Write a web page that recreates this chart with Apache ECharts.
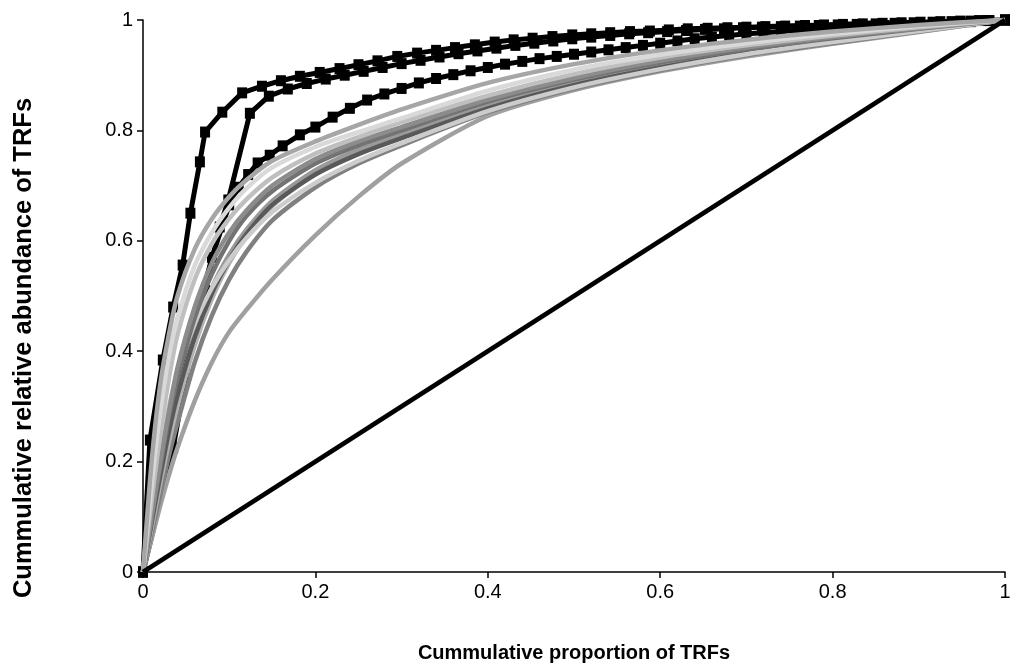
<!DOCTYPE html>
<html>
<head>
<meta charset="utf-8">
<script src="https://cdn.jsdelivr.net/npm/echarts@6/dist/echarts.min.js"></script>
<style>
  html, body { margin: 0; padding: 0; background: #fff; }
  #chart { width: 1014px; height: 666px; }
</style>
</head>
<body>
<div id="chart"></div>
<script>
// Cumulative (Lorenz-type) curves of TRF abundance: [proportion of TRFs, cumulative relative abundance]
const xTitle = 'Cummulative proportion of TRFs';
const yTitle = 'Cummulative relative abundance of TRFs';
const tickValues = [0, 0.2, 0.4, 0.6, 0.8, 1];

// Black profiles drawn with square markers
const profileA = [[0,0],[0.008,0.239],[0.023,0.384],[0.035,0.48],[0.046,0.556],[0.055,0.65],[0.066,0.743],[0.072,0.797],[0.092,0.833],[0.115,0.868],[0.138,0.88],[0.16,0.89],[0.182,0.898],[0.205,0.905],[0.228,0.912],[0.25,0.919],[0.272,0.926],[0.295,0.934],[0.318,0.94],[0.34,0.945],[0.362,0.95],[0.385,0.955],[0.408,0.96],[0.43,0.964],[0.452,0.967],[0.475,0.97],[0.498,0.973],[0.52,0.975],[0.542,0.977],[0.565,0.979],[0.588,0.98],[0.61,0.982],[0.632,0.984],[0.655,0.985],[0.678,0.986],[0.7,0.987],[0.722,0.988],[0.745,0.989],[0.768,0.99],[0.79,0.991],[0.812,0.992],[0.835,0.993],[0.858,0.994],[0.88,0.995],[0.902,0.996],[0.925,0.997],[0.948,0.998],[0.97,0.999],[1,1]];
const profileB = [[0,0],[0.035,0.225],[0.06,0.444],[0.072,0.51],[0.089,0.625],[0.099,0.674],[0.124,0.831],[0.146,0.862],[0.168,0.875],[0.19,0.885],[0.212,0.893],[0.234,0.9],[0.256,0.907],[0.278,0.914],[0.3,0.921],[0.322,0.927],[0.344,0.933],[0.366,0.939],[0.388,0.944],[0.41,0.949],[0.432,0.954],[0.454,0.958],[0.476,0.962],[0.498,0.966],[0.52,0.969],[0.542,0.972],[0.564,0.975],[0.586,0.977],[0.608,0.979],[0.63,0.981],[0.652,0.983],[0.674,0.984],[0.696,0.986],[0.718,0.987],[0.74,0.988],[0.762,0.989],[0.784,0.99],[0.806,0.991],[0.828,0.992],[0.85,0.993],[0.872,0.994],[0.894,0.995],[0.916,0.996],[0.938,0.997],[0.96,0.998],[0.982,0.999],[1,1]];
const profileC = [[0,0],[0.02,0.18],[0.04,0.33],[0.06,0.45],[0.08,0.57],[0.1,0.665],[0.111,0.697],[0.122,0.72],[0.133,0.741],[0.147,0.755],[0.162,0.772],[0.182,0.792],[0.2,0.806],[0.22,0.824],[0.24,0.84],[0.26,0.855],[0.28,0.866],[0.3,0.876],[0.32,0.886],[0.34,0.894],[0.36,0.901],[0.38,0.908],[0.4,0.914],[0.42,0.92],[0.44,0.925],[0.46,0.93],[0.48,0.934],[0.5,0.938],[0.52,0.942],[0.54,0.946],[0.56,0.95],[0.58,0.954],[0.6,0.958],[0.62,0.962],[0.64,0.966],[0.66,0.969],[0.68,0.972],[0.7,0.975],[0.72,0.977],[0.74,0.979],[0.76,0.981],[0.78,0.983],[0.8,0.985],[0.82,0.987],[0.84,0.989],[0.86,0.99],[0.88,0.992],[0.9,0.993],[0.92,0.995],[0.94,0.996],[0.96,0.997],[0.98,0.999],[1,1]];

// Grey profiles share one set of proportions
const greyX = [0, 0.01, 0.02, 0.03, 0.04, 0.06, 0.08, 0.1, 0.12, 0.15, 0.2, 0.25, 0.3, 0.4, 0.5, 0.6, 0.7, 0.8, 0.9, 1];
const grey1  = [0, 0.2, 0.34, 0.43, 0.5, 0.585, 0.64, 0.68, 0.71, 0.745, 0.78, 0.81, 0.838, 0.886, 0.92, 0.945, 0.964, 0.979, 0.991, 1];
const grey2  = [0, 0.16, 0.29, 0.39, 0.46, 0.555, 0.615, 0.66, 0.695, 0.733, 0.77, 0.797, 0.822, 0.872, 0.91, 0.937, 0.958, 0.975, 0.989, 1];
const grey3  = [0, 0.13, 0.25, 0.35, 0.43, 0.53, 0.595, 0.64, 0.675, 0.715, 0.758, 0.788, 0.815, 0.863, 0.902, 0.932, 0.954, 0.972, 0.987, 1];
const grey4  = [0, 0.1, 0.2, 0.29, 0.37, 0.48, 0.56, 0.615, 0.655, 0.7, 0.748, 0.78, 0.806, 0.856, 0.895, 0.926, 0.95, 0.969, 0.985, 1];
const grey5  = [0, 0.1, 0.19, 0.28, 0.35, 0.46, 0.54, 0.6, 0.645, 0.69, 0.74, 0.773, 0.8, 0.852, 0.892, 0.923, 0.947, 0.967, 0.984, 1];
const grey6  = [0, 0.09, 0.17, 0.25, 0.32, 0.43, 0.515, 0.575, 0.62, 0.672, 0.728, 0.765, 0.793, 0.847, 0.888, 0.92, 0.945, 0.965, 0.983, 1];
const grey7  = [0, 0.08, 0.16, 0.235, 0.3, 0.41, 0.495, 0.56, 0.608, 0.663, 0.722, 0.76, 0.79, 0.844, 0.885, 0.917, 0.943, 0.964, 0.982, 1];
const grey8  = [0, 0.09, 0.175, 0.255, 0.32, 0.425, 0.505, 0.565, 0.612, 0.665, 0.72, 0.757, 0.786, 0.84, 0.882, 0.914, 0.94, 0.962, 0.981, 1];
const grey9  = [0, 0.12, 0.22, 0.3, 0.36, 0.45, 0.515, 0.565, 0.605, 0.652, 0.705, 0.745, 0.777, 0.835, 0.878, 0.911, 0.938, 0.96, 0.98, 1];
const grey10 = [0, 0.07, 0.14, 0.21, 0.27, 0.38, 0.465, 0.53, 0.58, 0.637, 0.697, 0.74, 0.773, 0.833, 0.876, 0.909, 0.936, 0.958, 0.979, 1];
const grey11 = [0, 0.06, 0.12, 0.175, 0.225, 0.31, 0.38, 0.435, 0.475, 0.53, 0.61, 0.68, 0.74, 0.826, 0.873, 0.907, 0.934, 0.957, 0.978, 1];

const greyProfiles = [
  { values: grey11, color: '#a0a0a0' },
  { values: grey10, color: '#808080' },
  { values: grey7,  color: '#b3b3b3' },
  { values: grey6,  color: '#999999' },
  { values: grey8,  color: '#595959' },
  { values: grey9,  color: '#cccccc' },
  { values: grey5,  color: '#737373' },
  { values: grey4,  color: '#8c8c8c' },
  { values: grey3,  color: '#bfbfbf' },
  { values: grey2,  color: '#d9d9d9' },
  { values: grey1,  color: '#a6a6a6' }
];

// Line of equal distribution
const evenness = [[0, 0], [1, 1]];

const font = "'Liberation Sans', Arial, sans-serif";

const markedSeries = [profileA, profileB, profileC].map(data => ({
  type: 'line',
  data: data,
  symbol: 'rect',
  symbolSize: [10, 11],
  itemStyle: { color: '#000' },
  lineStyle: { color: '#000', width: 5 },
  z: 2
}));

const greySeries = greyProfiles.map(p => ({
  type: 'line',
  data: greyX.map((x, i) => [x, p.values[i]]),
  smooth: 0.25,
  symbol: 'none',
  lineStyle: { color: p.color, width: 4.5 },
  z: 3
}));

const tickFormatter = v => {
  const r = +v.toFixed(1);
  return tickValues.includes(r) ? String(r) : '';
};

const axisCommon = {
  type: 'value',
  min: 0,
  max: 1,
  interval: 0.2,
  splitLine: { show: false },
  axisLine: { show: true, lineStyle: { color: '#000', width: 1.5 } },
  axisTick: { show: true, inside: false, length: 6, lineStyle: { color: '#000', width: 1.5 } }
};

const chart = echarts.init(document.getElementById('chart'), null, { renderer: 'canvas' });
chart.setOption({
  animation: false,
  backgroundColor: '#fff',
  grid: { left: 143, right: 9, top: 20, bottom: 94, outerBoundsMode: 'none' },
  xAxis: Object.assign({}, axisCommon, {
    axisLabel: { color: '#000', fontFamily: font, fontSize: 20, margin: 10, formatter: tickFormatter },
    name: xTitle,
    nameLocation: 'middle',
    nameGap: 71,
    nameTextStyle: { color: '#000', fontFamily: font, fontWeight: 'bold', fontSize: 20 }
  }),
  yAxis: Object.assign({}, axisCommon, {
    axisLabel: { color: '#000', fontFamily: font, fontSize: 20, margin: 10, formatter: tickFormatter },
    name: yTitle,
    nameLocation: 'middle',
    nameGap: 106,
    nameRotate: 90,
    nameTextStyle: {
      color: '#000', fontFamily: font, fontWeight: 'bold', fontSize: 25.5,
      padding: [0, 104, 0, 0]
    }
  }),
  series: [
    ...markedSeries,
    ...greySeries,
    {
      type: 'line',
      data: evenness,
      symbol: 'none',
      lineStyle: { color: '#000', width: 4.5 },
      z: 4
    }
  ]
});
</script>
</body>
</html>
